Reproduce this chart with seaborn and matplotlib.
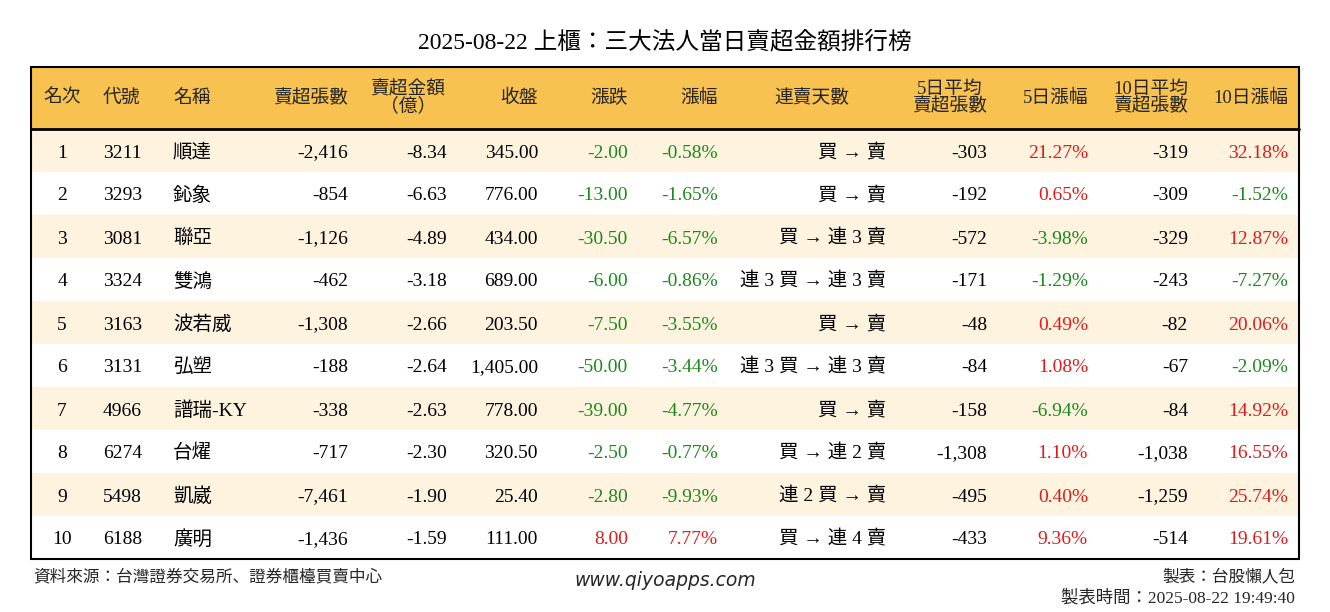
import matplotlib
matplotlib.use("Agg")
import matplotlib.pyplot as plt
import seaborn as sns
from matplotlib.patches import Rectangle
from matplotlib import font_manager as fm

sns.set_theme(style="white")
names = {f.name for f in fm.fontManager.ttflist}
cjk = [n for n in ["Noto Sans CJK TC", "Noto Sans CJK JP", "Noto Sans CJK SC", "Noto Sans CJK KR"] if n in names]
FONT = ["Liberation Serif"] + cjk + ["DejaVu Sans"]
plt.rcParams["font.family"] = FONT

title = "2025-08-22 上櫃：三大法人當日賣超金額排行榜"
headers = ["名次", "代號", "名稱", "賣超張數", "賣超金額\n（億）", "收盤", "漲跌", "漲幅",
           "連賣天數", "5日平均\n賣超張數", "5日漲幅", "10日平均\n賣超張數", "10日漲幅"]
rank = [1, 2, 3, 4, 5, 6, 7, 8, 9, 10]
code = ["3211", "3293", "3081", "3324", "3163", "3131", "4966", "6274", "5498", "6188"]
name = ["順達", "鈊象", "聯亞", "雙鴻", "波若威", "弘塑", "譜瑞-KY", "台燿", "凱崴", "廣明"]
net_lots = [-2416, -854, -1126, -462, -1308, -188, -338, -717, -7461, -1436]
net_amt = [-8.34, -6.63, -4.89, -3.18, -2.66, -2.64, -2.63, -2.30, -1.90, -1.59]
close = [345.00, 776.00, 434.00, 689.00, 203.50, 1405.00, 778.00, 320.50, 25.40, 111.00]
change = [-2.00, -13.00, -30.50, -6.00, -7.50, -50.00, -39.00, -2.50, -2.80, 8.00]
pct = [-0.58, -1.65, -6.57, -0.86, -3.55, -3.44, -4.77, -0.77, -9.93, 7.77]
streak = ["買 → 賣", "買 → 賣", "買 → 連 3 賣", "連 3 買 → 連 3 賣", "買 → 賣",
          "連 3 買 → 連 3 賣", "買 → 賣", "買 → 連 2 賣", "連 2 買 → 賣", "買 → 連 4 賣"]
avg5 = [-303, -192, -572, -171, -48, -84, -158, -1308, -495, -433]
pct5 = [21.27, 0.65, -3.98, -1.29, 0.49, 1.08, -6.94, 1.10, 0.40, 9.36]
avg10 = [-319, -309, -329, -243, -82, -67, -84, -1038, -1259, -514]
pct10 = [32.18, -1.52, 12.87, -7.27, 20.06, -2.09, 14.92, 16.55, 25.74, 19.61]

W, H = 1330, 612
fig = plt.figure(figsize=(W / 100, H / 100), dpi=100)
ax = fig.add_axes([0, 0, 1, 1])
ax.set_xlim(0, W)
ax.set_ylim(H, 0)
ax.axis("off")

GREEN = "#1a8a1a"
RED = "#e01b1b"
L, R, T, HB = 31, 1299, 67, 129
rowh = 43

ax.add_patch(Rectangle((L, T), R - L, HB - T, color="#F7C24F", zorder=0))
for i in range(10):
    y0 = HB + i * rowh
    ax.add_patch(Rectangle((L, y0), R - L, rowh, color="#FDF3DF" if i % 2 == 0 else "white", zorder=0))
ax.add_patch(Rectangle((L, T), R - L, HB + 10 * rowh - T, fill=False, ec="black", lw=1.5, zorder=3))
ax.plot([L, R], [HB, HB], color="black", lw=2, zorder=3)

ax.text(W / 2, 42, title, ha="center", va="center", fontsize=17, color="black")

cols = [(62, "center"), (103, "left"), (173, "left"), (348, "right"), (447, "right"),
        (538, "right"), (628, "right"), (718, "right"), (886, "right"), (987, "right"),
        (1088, "right"), (1188, "right"), (1288, "right")]
hdr = [(62, "center"), (103, "left"), (173, "left"), (348, "right"), (408, "center"),
       (538, "right"), (628, "right"), (718, "right"), (812, "center"), (987, "right"),
       (1088, "right"), (1188, "right"), (1288, "right")]
for (hx, ha), h in zip(hdr, headers):
    ax.text(hx, 98, h, ha=ha, va="center", fontsize=13.5, linespacing=0.95,
            multialignment="center")

def col(v):
    return GREEN if v < 0 else RED

for i in range(10):
    y = HB + i * rowh + rowh / 2 + 7
    vals = [(str(rank[i]), "black"), (code[i], "black"), (name[i], "black"),
            (f"{net_lots[i]:,}", "black"), (f"{net_amt[i]:.2f}", "black"),
            (f"{close[i]:,.2f}", "black"), (f"{change[i]:.2f}", col(change[i])),
            (f"{pct[i]:.2f}%", col(pct[i])), (streak[i], "black"),
            (f"{avg5[i]:,}", "black"), (f"{pct5[i]:.2f}%", col(pct5[i])),
            (f"{avg10[i]:,}", "black"), (f"{pct10[i]:.2f}%", col(pct10[i]))]
    for (x, ha), (s, c) in zip(cols, vals):
        ax.text(x, y, s, ha=ha, va="baseline", fontsize=14, color=c)

ax.text(33, 577, "資料來源：台灣證券交易所、證券櫃檯買賣中心", ha="left", va="center", fontsize=12)
ax.text(665, 580, "www.qiyoapps.com", ha="center", va="center", fontsize=13.5,
        fontfamily="DejaVu Sans", style="italic")
ax.text(1295, 577, "製表：台股懶人包", ha="right", va="center", fontsize=12)
ax.text(1295, 598, "製表時間：2025-08-22 19:49:40", ha="right", va="center", fontsize=12.5)

fig.savefig("out.png", dpi=100, facecolor="white")
